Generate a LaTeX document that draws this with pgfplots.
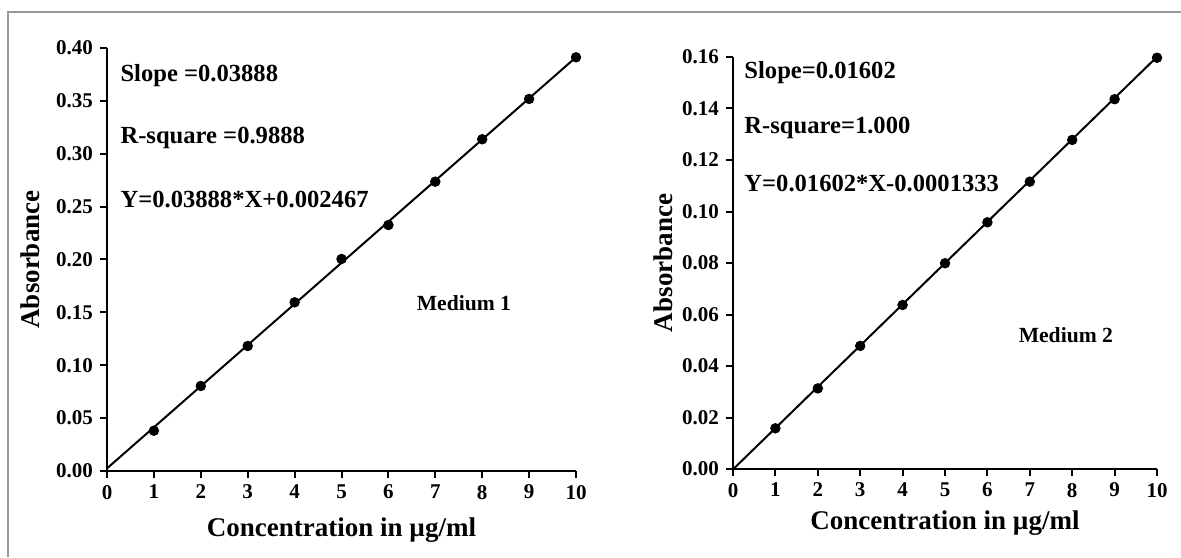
\documentclass[border=0pt]{standalone}
\usepackage{pgfplots}
\pgfplotsset{compat=1.18}
\usepackage{fontspec}
\setmainfont{Liberation Serif}

\pgfplotstableread{
x y
1 0.0381
2 0.0804
3 0.1182
4 0.1595
5 0.2005
6 0.2326
7 0.2736
8 0.3137
9 0.3518
10 0.3912
}\mediumone

\pgfplotstableread{
x y
1 0.0158
2 0.0313
3 0.0478
4 0.0637
5 0.0799
6 0.0958
7 0.1116
8 0.1278
9 0.1436
10 0.1597
}\mediumtwo

\tikzset{ann/.style={anchor=west, inner sep=0pt, font=\bfseries\fontsize{12.3}{14}\selectfont}}

\pgfplotsset{
  calib/.style={
    scale only axis,
    anchor=south west,
    axis x line=bottom,
    axis y line=left,
    axis line style={-, line width=1pt},
    tick align=outside,
    major tick length=3.5pt,
    every tick/.style={line width=1pt, black},
    xmin=0, xmax=10, xtick={0,...,10},
    ymin=0,
    clip=true,
    /pgf/number format/assume math mode=true,
    tick label style={font=\bfseries\fontsize{10.5}{11}\selectfont},
    yticklabel style={/pgf/number format/.cd, fixed, fixed zerofill, precision=2},
    label style={font=\bfseries\fontsize{13.5}{15}\selectfont},
    xlabel={Concentration in µg/ml},
  },
}

\begin{document}
\begin{tikzpicture}
\useasboundingbox (0,0) rectangle (590.5pt,278.5pt);
% frame
\draw[gray!80, line width=0.9pt] (4pt,0) -- (4pt,272.5pt) -- (590.5pt,272.5pt);

% Medium 1
\begin{axis}[calib,
  at={(53.5pt,43pt)},
  width=234.5pt, height=211.5pt,
  ymax=0.40, ytick={0,0.05,...,0.40},
  ylabel={Absorbance},
  xlabel style={at={(axis description cs:0.5,0)}, anchor=center, yshift=-29.5pt},
  ylabel style={at={(axis description cs:0,0.5)}, anchor=center, yshift=38.5pt},
]
\addplot[black, line width=1pt, no markers] coordinates {(0,0.002467) (10,0.391267)};
\addplot[only marks, mark=*, mark size=2.4pt, black] table[x=x, y=y] {\mediumone};
\node[ann] at (axis description cs:0.028,0.934) {Slope =0.03888};
\node[ann] at (axis description cs:0.028,0.787) {R-square =0.9888};
\node[ann] at (axis description cs:0.028,0.641) {Y=0.03888*X+0.002467};
\node[font=\bfseries\fontsize{10.8}{12}\selectfont] at (axis cs:7.61,0.159) {Medium 1};
\end{axis}

% Medium 2
\begin{axis}[calib,
  at={(366.5pt,44pt)},
  width=212pt, height=206pt,
  ymax=0.16, ytick={0,0.02,...,0.16},
  ylabel={Absorbance},
  xlabel style={at={(axis description cs:0.5,0)}, anchor=center, yshift=-27pt},
  ylabel style={at={(axis description cs:0,0.5)}, anchor=center, yshift=35pt},
]
\addplot[black, line width=1pt, no markers] coordinates {(0,-0.0001333) (10,0.1600667)};
\addplot[only marks, mark=*, mark size=2.4pt, black] table[x=x, y=y] {\mediumtwo};
\node[ann] at (axis description cs:0.026,0.961) {Slope=0.01602};
\node[ann] at (axis description cs:0.026,0.828) {R-square=1.000};
\node[ann] at (axis description cs:0.026,0.694) {Y=0.01602*X-0.0001333};
\node[font=\bfseries\fontsize{10.8}{12}\selectfont] at (axis cs:7.85,0.052) {Medium 2};
\end{axis}
\end{tikzpicture}
\end{document}
